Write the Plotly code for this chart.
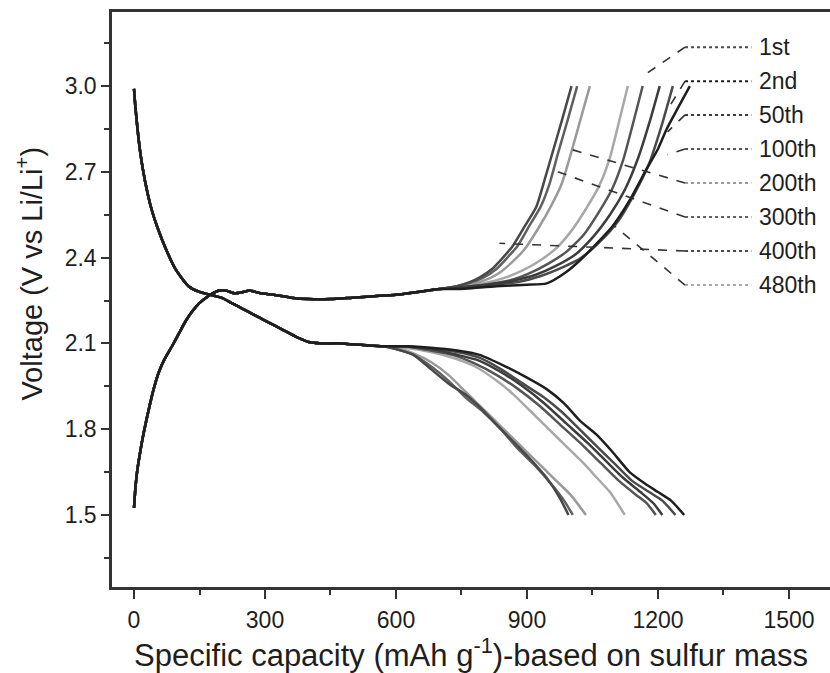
import plotly.graph_objects as go

# ---------------- data ----------------
cycles = ["1st", "2nd", "50th", "100th", "200th", "300th", "400th", "480th"]

# shared early part of all discharge curves
dis_x_common = [0, 3, 8, 15, 25, 40, 55, 73, 95, 125, 150, 175, 200, 225, 250, 275,
                300, 325, 350, 375, 400, 430, 470, 520, 570]
dis_v_common = [2.99, 2.93, 2.85, 2.76, 2.67, 2.57, 2.50, 2.43, 2.36, 2.30, 2.28, 2.27,
                2.26, 2.24, 2.22, 2.20, 2.18, 2.16, 2.14, 2.12, 2.105, 2.10, 2.10, 2.095, 2.09]

# discharge tails per cycle
dis_x_1st = [620, 680, 740, 791, 840, 890, 940, 980, 1020, 1060, 1100, 1140, 1180, 1210, 1240]
dis_v_1st = [2.09, 2.08, 2.07, 2.05, 2.01, 1.96, 1.91, 1.86, 1.80, 1.74, 1.68, 1.62, 1.58, 1.55, 1.50]
dis_x_2nd = [620, 680, 740, 791, 850, 900, 945, 985, 1021, 1060, 1096, 1135, 1170, 1200, 1230, 1260]
dis_v_2nd = [2.09, 2.085, 2.075, 2.06, 2.02, 1.98, 1.94, 1.89, 1.83, 1.78, 1.72, 1.65, 1.61, 1.58, 1.55, 1.50]
dis_x_50th = [620, 680, 740, 790, 840, 890, 940, 990, 1040, 1080, 1120, 1160, 1190, 1210]
dis_v_50th = [2.09, 2.08, 2.06, 2.04, 2.00, 1.95, 1.89, 1.82, 1.75, 1.69, 1.63, 1.58, 1.54, 1.50]
dis_x_100th = [620, 680, 730, 780, 830, 880, 930, 980, 1030, 1070, 1110, 1150, 1175, 1195]
dis_v_100th = [2.09, 2.075, 2.06, 2.03, 1.99, 1.94, 1.88, 1.81, 1.74, 1.68, 1.62, 1.57, 1.54, 1.50]
dis_x_200th = [600, 640, 680, 720, 760, 800, 840, 880, 920, 960, 1000, 1035]
dis_v_200th = [2.085, 2.065, 2.035, 1.99, 1.93, 1.87, 1.81, 1.75, 1.69, 1.63, 1.57, 1.50]
dis_x_300th = [600, 640, 680, 720, 760, 800, 840, 880, 920, 960, 985, 1005]
dis_v_300th = [2.08, 2.06, 2.02, 1.97, 1.91, 1.86, 1.80, 1.73, 1.67, 1.60, 1.55, 1.50]
dis_x_400th = [600, 640, 680, 720, 760, 800, 840, 870, 905, 945, 975, 995]
dis_v_400th = [2.08, 2.06, 2.01, 1.96, 1.92, 1.865, 1.80, 1.755, 1.70, 1.63, 1.56, 1.50]
dis_x_480th = [620, 680, 730, 780, 830, 870, 910, 950, 990, 1030, 1060, 1090, 1124]
dis_v_480th = [2.085, 2.07, 2.05, 2.02, 1.97, 1.92, 1.86, 1.80, 1.74, 1.68, 1.63, 1.58, 1.50]

# shared early part of all charge curves
ch_x_common = [0, 3, 7, 12, 20, 34, 45, 57, 70, 87, 103, 119, 135, 149, 165, 180, 195,
               210, 230, 250, 265, 290, 320, 360, 400, 450, 500, 550, 600, 650, 700]
ch_v_common = [1.525, 1.59, 1.65, 1.70, 1.77, 1.87, 1.94, 2.00, 2.045, 2.09, 2.135, 2.18,
               2.215, 2.24, 2.26, 2.275, 2.285, 2.285, 2.275, 2.28, 2.285, 2.275, 2.27,
               2.26, 2.255, 2.255, 2.26, 2.265, 2.27, 2.28, 2.29]

# charge tails per cycle
ch_x_1st = [740, 820, 880, 930, 980, 1025, 1070, 1110, 1145, 1180, 1208, 1234]
ch_v_1st = [2.295, 2.305, 2.315, 2.335, 2.365, 2.40, 2.46, 2.53, 2.62, 2.73, 2.86, 3.00]
ch_x_2nd = [740, 830, 900, 945, 990, 1021, 1060, 1096, 1135, 1174, 1200, 1220, 1248, 1273]
ch_v_2nd = [2.29, 2.30, 2.305, 2.31, 2.35, 2.39, 2.45, 2.51, 2.60, 2.71, 2.78, 2.85, 2.93, 3.00]
ch_x_50th = [740, 810, 870, 920, 965, 1010, 1050, 1090, 1125, 1155, 1180, 1204]
ch_v_50th = [2.295, 2.305, 2.32, 2.34, 2.37, 2.41, 2.47, 2.55, 2.64, 2.75, 2.87, 3.00]
ch_x_100th = [740, 800, 860, 905, 950, 990, 1030, 1065, 1095, 1120, 1143, 1165]
ch_v_100th = [2.295, 2.305, 2.32, 2.345, 2.38, 2.42, 2.48, 2.56, 2.64, 2.74, 2.87, 3.00]
ch_x_200th = [740, 780, 810, 840, 870, 895, 925, 955, 980, 1000, 1022, 1044]
ch_v_200th = [2.30, 2.31, 2.325, 2.35, 2.39, 2.43, 2.50, 2.58, 2.66, 2.76, 2.88, 3.00]
ch_x_300th = [740, 775, 800, 830, 855, 878, 905, 932, 952, 972, 993, 1015]
ch_v_300th = [2.30, 2.315, 2.33, 2.36, 2.40, 2.44, 2.51, 2.58, 2.66, 2.77, 2.88, 3.00]
ch_x_400th = [740, 770, 791, 820, 845, 867, 895, 922, 940, 959, 980, 1002]
ch_v_400th = [2.30, 2.315, 2.33, 2.36, 2.40, 2.44, 2.51, 2.58, 2.67, 2.77, 2.88, 3.00]
ch_x_480th = [740, 800, 850, 890, 930, 965, 1000, 1035, 1065, 1090, 1110, 1131]
ch_v_480th = [2.295, 2.31, 2.33, 2.355, 2.39, 2.43, 2.49, 2.57, 2.65, 2.75, 2.87, 3.00]

# legend label rows (voltage level of each label) and leader-line targets
legend_v = [3.136, 3.017, 2.899, 2.780, 2.661, 2.542, 2.423, 2.304]
leader_x = [1170, 1227, 1222, 1222, 998, 952, 837, 1101]
leader_v = [3.04, 2.93, 2.84, 2.76, 2.78, 2.71, 2.45, 2.51]

x_ticks = [0, 300, 600, 900, 1200, 1500]
y_ticks = [1.5, 1.8, 2.1, 2.4, 2.7, 3.0]

# ---------------- styling ----------------
colors = {"1st": "#4a4a4a", "2nd": "#1e1e1e", "50th": "#3c3c3c", "100th": "#555555",
          "200th": "#9a9a9a", "300th": "#606060", "400th": "#484848", "480th": "#a8a8a8"}
# draw light curves first so the darkest ends on top (shared parts look dark)
draw_order = ["480th", "200th", "300th", "100th", "1st", "400th", "50th", "2nd"]
dis_tails = {"1st": (dis_x_1st, dis_v_1st), "2nd": (dis_x_2nd, dis_v_2nd),
             "50th": (dis_x_50th, dis_v_50th), "100th": (dis_x_100th, dis_v_100th),
             "200th": (dis_x_200th, dis_v_200th), "300th": (dis_x_300th, dis_v_300th),
             "400th": (dis_x_400th, dis_v_400th), "480th": (dis_x_480th, dis_v_480th)}
ch_tails = {"1st": (ch_x_1st, ch_v_1st), "2nd": (ch_x_2nd, ch_v_2nd),
            "50th": (ch_x_50th, ch_v_50th), "100th": (ch_x_100th, ch_v_100th),
            "200th": (ch_x_200th, ch_v_200th), "300th": (ch_x_300th, ch_v_300th),
            "400th": (ch_x_400th, ch_v_400th), "480th": (ch_x_480th, ch_v_480th)}

FONT = "Liberation Sans, Arial, sans-serif"
TXT = "#1e1e1e"
fig = go.Figure()

for c in draw_order:
    dx, dv = dis_tails[c]
    fig.add_trace(go.Scatter(x=dis_x_common + dx, y=dis_v_common + dv, mode="lines",
                             line=dict(color=colors[c], width=2.5, shape="spline", smoothing=0.6),
                             name=c, showlegend=False, hoverinfo="skip"))
    cx, cv = ch_tails[c]
    fig.add_trace(go.Scatter(x=ch_x_common + cx, y=ch_v_common + cv, mode="lines",
                             line=dict(color=colors[c], width=2.5, shape="spline", smoothing=0.6),
                             name=c, showlegend=False, hoverinfo="skip"))

# custom legend: sample lines, labels and dashed leader lines
LEG_X0, LEG_X1, LAB_X = 1262, 1414, 1427
for c, lv, tx, tv in zip(cycles, legend_v, leader_x, leader_v):
    fig.add_shape(type="line", xref="x", yref="y", x0=LEG_X0, x1=LEG_X1, y0=lv, y1=lv,
                  line=dict(color=colors[c], width=2, dash="dot"))
    fig.add_shape(type="line", xref="x", yref="y", x0=LEG_X0, y0=lv, x1=tx, y1=tv,
                  line=dict(color="#333333", width=1.6, dash="dash"))
    fig.add_annotation(x=LAB_X, y=lv, xref="x", yref="y", text=c, showarrow=False,
                       xanchor="left", yanchor="middle",
                       font=dict(family=FONT, size=23, color=TXT))

# y-axis title placed as a rotated annotation (left of the tick labels)
fig.add_annotation(x=-0.1156, y=0.545, xref="paper", yref="paper",
                   text="Voltage (V vs Li/Li<sup>+</sup>)", showarrow=False, textangle=-90,
                   xanchor="center", yanchor="middle",
                   font=dict(family=FONT, size=29, color=TXT))

fig.update_layout(
    width=830, height=673,
    margin=dict(l=112, r=0, t=12, b=86),
    paper_bgcolor="white", plot_bgcolor="white",
    showlegend=False,
    font=dict(family=FONT, size=23, color=TXT),
)
fig.update_xaxes(
    range=[-50.4, 1594], tickvals=x_ticks, ticktext=[str(v) for v in x_ticks],
    ticks="outside", ticklen=9, tickwidth=1.5, tickcolor="#333",
    minor=dict(dtick=150, tick0=0, ticks="outside", ticklen=5, tickcolor="#333"),
    showline=True, linewidth=2.5, linecolor="#333", mirror=True,
    showgrid=False, zeroline=False, automargin=False, ticklabelstandoff=2,
    tickfont=dict(family=FONT, size=23, color=TXT),
    title=dict(text="Specific capacity (mAh g<sup>-1</sup>)-based on sulfur mass",
               font=dict(family=FONT, size=31, color=TXT), standoff=1),
)
fig.update_yaxes(
    range=[1.248, 3.259], tickvals=y_ticks, ticktext=[f"{v:.1f}" for v in y_ticks],
    ticks="outside", ticklen=8, tickwidth=1.5, tickcolor="#333",
    minor=dict(dtick=0.15, tick0=1.35, ticks="outside", ticklen=5, tickcolor="#333"),
    showline=True, linewidth=2.5, linecolor="#333", mirror=True,
    showgrid=False, zeroline=False, automargin=False,
    tickfont=dict(family=FONT, size=23, color=TXT),
)

fig.write_html("out.html", config={"displayModeBar": False},
               post_script="document.body.style.margin='0px';document.body.style.padding='0px';")
